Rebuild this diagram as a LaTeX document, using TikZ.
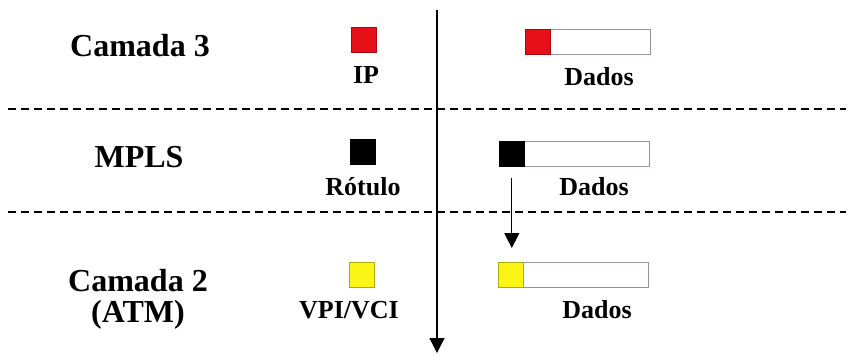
\documentclass[tikz,border=0pt]{standalone}
\usepackage{fontspec}
\setmainfont{Liberation Serif}
\usetikzlibrary{arrows.meta}
\definecolor{ipred}{RGB}{232,16,24}
\definecolor{atmyellow}{RGB}{250,245,20}
\definecolor{barline}{RGB}{150,145,160}
\begin{document}
\begin{tikzpicture}[x=1pt,y=-1pt,
  layername/.style={font=\fontsize{32}{36}\selectfont\bfseries, anchor=base, inner sep=0},
  fieldname/.style={font=\fontsize{26}{30}\selectfont\bfseries, anchor=base, inner sep=0},
  hdr/.style={draw=#1!70!black, fill=#1, line width=0.6pt, minimum width=25pt, minimum height=25pt, inner sep=0, anchor=north west},
  payload/.style={draw=barline, line width=0.8pt, fill=white, minimum height=25pt, inner sep=0, anchor=north west},
  divider/.style={dashed, dash pattern=on 8pt off 5pt, line width=1.4pt},
  flow/.style={line width=1.2pt, -{Triangle[width=15pt,length=15pt]}}
]
\useasboundingbox (0,0) rectangle (853,354);

% layer separators
\coordinate (d1l) at (8,109);  \coordinate (d1r) at (846,109);
\coordinate (d2l) at (8,212);  \coordinate (d2r) at (846,212);
\draw[divider] (d1l) -- (d1r);
\draw[divider] (d2l) -- (d2r);

% layer names
\node[layername] (l3)  at (140,56)  {Camada 3};
\node[layername] (lm)  at (139,167) {MPLS};
\node[layername] (l2)  at (138,291) {Camada 2};
\node[layername] (atm) at (138,322) {(ATM)};

% header fields alone
\node[hdr=ipred]      (ip)  at (351,27)  {};
\node[hdr=black]      (lab) at (350,139) {};
\node[hdr=atmyellow]  (vc)  at (349,262) {};
\node[fieldname] (tip)  at (366,83)  {IP};
\node[fieldname] (tlab) at (363,195) {Rótulo};
\node[fieldname] (tvc)  at (349,318) {VPI/VCI};

% packets: header + data
\node[payload, minimum width=125pt] (p3) at (525,29)  {};
\node[hdr=ipred] (h3) at (525,29) {};
\node[payload, minimum width=150pt] (pm) at (499,141) {};
\node[hdr=black] (hm) at (499,141) {};
\node[payload, minimum width=150pt] (p2) at (498,262) {};
\node[hdr=atmyellow] (h2) at (498,262) {};
\node[fieldname] (d3) at (599,85)  {Dados};
\node[fieldname] (dm) at (594,195) {Dados};
\node[fieldname] (d2) at (597,318) {Dados};

% flow arrows
\coordinate (vtop) at (437,10);
\coordinate (vbot) at (437,353);
\draw[flow] (vtop) -- (vbot);
\coordinate (ms) at ([yshift=-11pt]hm.south);
\coordinate (me) at (ms |- h2.north);
\draw[flow] (ms) -- ([yshift=14pt]me);
\end{tikzpicture}
\end{document}
